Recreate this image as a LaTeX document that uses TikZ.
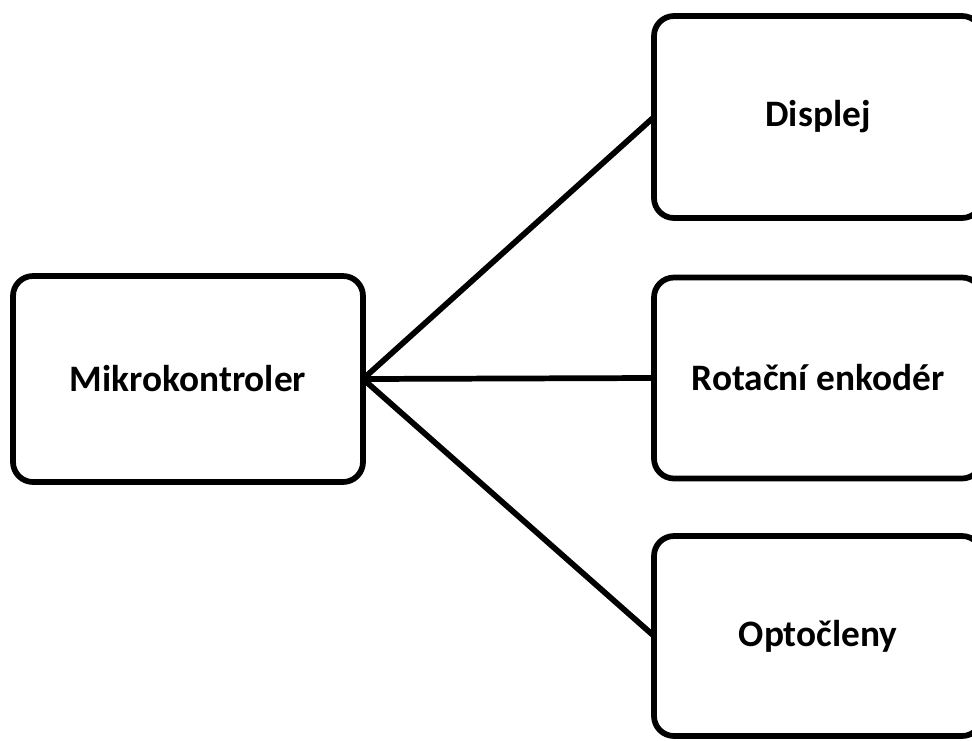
\documentclass[tikz,border=0pt]{standalone}
\usepackage{fontspec}
\setmainfont{Carlito}
\begin{document}
\begin{tikzpicture}[x=0.75pt,y=-0.75pt,
  block/.style={draw=black,line width=4.3pt,rounded corners=15pt,fill=white,
    inner sep=0pt,outer sep=0pt,font=\bfseries\fontsize{28}{32}\selectfont},
  link/.style={draw=black,line width=4.3pt}]
\useasboundingbox (0,0) rectangle (972,740);
\node[block,minimum width=350*0.75pt,minimum height=206*0.75pt] (mc) at (188,379) {Mikrokontroler};
\node[block,minimum width=328*0.75pt,minimum height=202*0.75pt] (disp) at (818,117) {Displej};
\node[block,minimum width=328*0.75pt,minimum height=201*0.75pt] (enc) at (818,378) {Rotační enkodér};
\node[block,minimum width=328*0.75pt,minimum height=200*0.75pt] (opto) at (818,636) {Optočleny};
\draw[link] (mc.east) -- (disp.west);
\draw[link] (mc.east) -- (enc.west);
\draw[link] (mc.east) -- (opto.west);
\end{tikzpicture}
\end{document}
